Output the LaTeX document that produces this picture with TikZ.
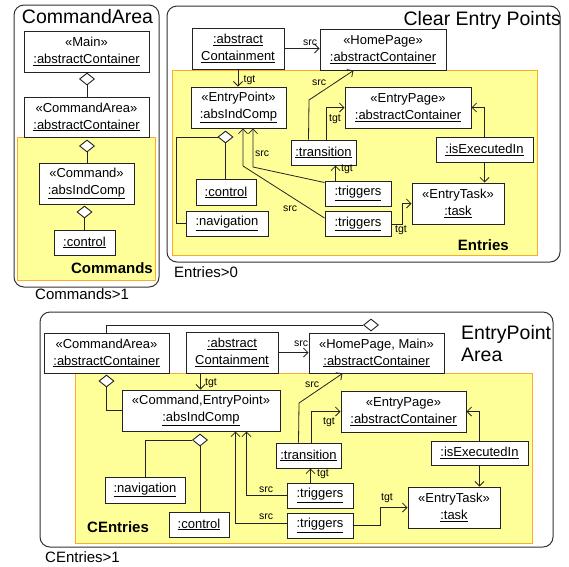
\documentclass[tikz,border=0pt]{standalone}
\usepackage{fontspec}
\setmainfont{Liberation Sans}
\usetikzlibrary{arrows.meta,shapes.geometric,calc}
\definecolor{areaf}{RGB}{255,255,153}
\definecolor{areab}{RGB}{255,170,40}
\definecolor{boxc}{RGB}{35,35,35}
\definecolor{linec}{RGB}{35,35,35}
\definecolor{panelc}{RGB}{50,50,50}
\tikzset{
  box/.style={draw=boxc, line width=1pt, fill=white, inner sep=0pt, align=center, font=\fontsize{13}{17}\selectfont},
  bx/.style 2 args={box, minimum width=#1pt, minimum height=#2pt},
  dia/.style={diamond, draw=boxc, line width=0.9pt, fill=white, minimum width=15pt, minimum height=12pt, inner sep=0pt},
  con/.style={draw=linec, line width=0.8pt},
  arr/.style={con, -{Straight Barb[length=4.5pt,width=9pt]}},
  lab/.style={font=\fontsize{10.5}{12}\selectfont, inner sep=0pt},
  panel/.style={draw=panelc, line width=1pt, rounded corners=10pt},
  area/.style={fill=areaf, draw=areab, line width=1pt},
  ttl/.style={font=\fontsize{19.5}{22}\selectfont, inner sep=0pt},
  areattl/.style={font=\bfseries\fontsize{15}{18}\selectfont, inner sep=0pt},
  card/.style={font=\fontsize{15}{18}\selectfont, inner sep=0pt},
}
\newcommand{\ul}[1]{\underline{#1}}
\begin{document}
\begin{tikzpicture}[x=1pt,y=-1pt]
\fill[white] (0,0) rectangle (569,566);
\useasboundingbox (0,0) rectangle (569,566);

% ================= Panel 1: CommandArea =================
\draw[panel] (14,5) rectangle (159,287);
\draw[area] (17,137) rectangle (155,280);
\node[ttl] (t1) at (87.5,17) {CommandArea};
\node[bx={125}{41}] (main) at (86.5,51.5) {«Main»\\\ul{:abstractContainer}};
\node[bx={125}{40}] (carea) at (86.5,117) {«CommandArea»\\\ul{:abstractContainer}};
\node[bx={95}{41}] (cmd) at (86.5,183.5) {«Command»\\\ul{:absIndComp}};
\node[bx={61}{25}] (ctrla) at (84.5,242.5) {\ul{:control}};
\node[dia] (d1) at (87,79) {};
\node[dia] (d2) at (87,146) {};
\node[dia] (d3) at (84.5,212) {};
\draw[con] (d1.south) -- (d1.south |- carea.north);
\draw[con] (d2.south) -- (d2.south |- cmd.north);
\draw[con] (d3.south) -- (d3.south |- ctrla.north);
\node[areattl, anchor=base east] (at1) at (153,273.5) {Commands};
\node[card, anchor=base west] (c1) at (35,299.5) {Commands>1};

% ================= Panel 2: Clear Entry Points =================
\draw[panel] (167,6) rectangle (560,262);
\draw[area] (172,70) rectangle (537,255);
\node[ttl, anchor=base east] (t2) at (561,25) {Clear Entry Points};
\node[bx={92}{41}] (contain) at (238,48.5) {\ul{:abstract}\\\ul{Containment}};
\node[bx={126}{41}] (home) at (383,49.5) {«HomePage»\\\ul{:abstractContainer}};
\node[bx={95}{41}] (epoint) at (238.5,107.5) {«EntryPoint»\\\ul{:absIndComp}};
\node[bx={126}{41}] (epage) at (408,107.5) {«EntryPage»\\\ul{:abstractContainer}};
\node[bx={60}{26}] (ctrlb) at (226,192.5) {\ul{:control}};
\node[bx={82}{25}] (nav) at (227,223.5) {\ul{:navigation}};
\node[bx={65}{25}] (trans) at (323.5,152.5) {\ul{:transition}};
\node[bx={66}{25}] (trig1) at (358,193.5) {\ul{:triggers}};
\node[bx={66}{25}] (trig2) at (358,224) {\ul{:triggers}};
\node[bx={92}{41}] (task) at (458,203.5) {«EntryTask»\\\ul{:task}};
\node[bx={97}{25}] (isexec) at (484.5,150) {\ul{:isExecutedIn}};
\node[dia] (dg) at (225.5,137) {};
\draw[con] (dg.south) -- (dg.south |- ctrlb.north);
\draw[con] (dg.west) -| ($(nav.west)+(-9,0)$) -- (nav.west);
\draw[arr] (contain.east) -- (contain.east -| home.west);
\node[lab] (l1) at (310,43) {src};
\draw[arr] (contain.south) -- (contain.south |- epoint.north);
\node[lab] (l2) at (249.5,80) {tgt};
\coordinate (b1) at (309,100);
\draw[arr] ($(trans.north west)+(18,0)$) -- (b1) -- ($(home.south west)+(34,0)$);
\node[lab] (l3) at (319,83) {src};
\draw[arr] ($(trans.north west)+(36,0)$) |- (epage.west);
\node[lab] (l4) at (335,119) {tgt};
\coordinate (t1a) at ($(trig1.north west)+(11,0)$);
\draw[arr] (t1a) -- (t1a |- trans.south);
\node[lab] (l5) at (347,169) {tgt};
\coordinate (e1) at (253,167);
\draw[arr] ($(trig1.north west)+(0,2)$) -- (e1) -- (e1 |- epoint.south);
\node[lab] (l6) at (262,154) {src};
\coordinate (e2) at (243,166);
\draw[arr] ($(trig2.north west)+(0,7)$) -- (e2) -- (e2 |- epoint.south);
\node[lab] (l7) at (290,209) {src};
\draw[arr] (trig2.east) -- ++(11,0) |- (task.west);
\node[lab] (l8) at (401,230) {tgt};
\draw[arr] (isexec.south) -- (isexec.south |- task.north);
\draw[arr] (isexec.north) |- (epage.east);
\node[areattl, anchor=base east] (at2) at (509,250.5) {Entries};
\node[card, anchor=base west] (c2) at (174,277.5) {Entries>0};

% ================= Panel 3: EntryPoint Area =================
\draw[panel] (40,312) rectangle (553,547);
\draw[area] (75,373) rectangle (532,543);
\node[ttl, anchor=base west] (t3a) at (461,339) {EntryPoint};
\node[ttl, anchor=base west] (t3b) at (461,361) {Area};
\node[bx={125}{40}] (carea3) at (106.5,353) {«CommandArea»\\\ul{:abstractContainer}};
\node[bx={92}{41}] (contain3) at (232,352.5) {\ul{:abstract}\\\ul{Containment}};
\node[bx={135}{40}] (home3) at (376.5,353) {«HomePage, Main»\\\ul{:abstractContainer}};
\node[bx={158}{41}] (cep) at (201,410.5) {«Command,EntryPoint»\\\ul{:absIndComp}};
\node[bx={125}{41}] (epage3) at (403.5,411.5) {«EntryPage»\\\ul{:abstractContainer}};
\node[bx={80}{26}] (nav3) at (145,490) {\ul{:navigation}};
\node[bx={60}{25}] (ctrl3) at (199,524.5) {\ul{:control}};
\node[bx={65}{25}] (trans3) at (308.5,455.5) {\ul{:transition}};
\node[bx={66}{25}] (trig13) at (320,495.5) {\ul{:triggers}};
\node[bx={66}{25}] (trig23) at (320,525.5) {\ul{:triggers}};
\node[bx={92}{41}] (task3) at (454,507.5) {«EntryTask»\\\ul{:task}};
\node[bx={97}{24}] (isexec3) at (479.5,453) {\ul{:isExecutedIn}};
\node[dia] (dtop) at (371,325) {};
\node[dia] (dca) at (106.5,381) {};
\node[dia] (dcep) at (200,440) {};
\draw[con] ($(carea3.north west)+(63,0)$) |- (dtop.west);
\draw[con] (dca.south) |- (cep.west);
\draw[con] (dcep.west) -| (nav3.north);
\draw[con] (dcep.south) -- (dcep.south |- ctrl3.north);
\coordinate (c3) at ($(contain3.south west)+(15,0)$);
\draw[arr] (c3) -- (c3 |- cep.north);
\node[lab] (m1) at (211,383) {tgt};
\draw[arr] (contain3.east) -- (contain3.east -| home3.west);
\node[lab] (m2) at (301,344) {src};
\coordinate (b3) at (299,403);
\draw[arr] ($(trans3.north west)+(23,0)$) -- (b3) -- ($(home3.south west)+(34,0)$);
\node[lab] (m3) at (312,385) {src};
\draw[arr] ($(trans3.north west)+(36,0)$) |- (epage3.west);
\node[lab] (m4) at (329,422) {tgt};
\coordinate (t13a) at ($(trig13.north west)+(24,0)$);
\draw[arr] (t13a) -- (t13a |- trans3.south);
\node[lab] (m5) at (323,474) {tgt};
\draw[arr] (trig13.west) -| ($(cep.south west)+(125,0)$);
\node[lab] (m6) at (266,490) {src};
\draw[arr] ($(trig23.west)+(0,-2)$) -| ($(cep.south west)+(114,0)$);
\node[lab] (m7) at (266,517) {src};
\draw[arr] (trig23.east) -- ++(27,0) |- (task3.west);
\node[lab] (m8) at (387,498) {tgt};
\draw[arr] (isexec3.south) -- (isexec3.south |- task3.north);
\draw[arr] (isexec3.north) |- (epage3.east);
\node[areattl, anchor=base west] (at3) at (87,532.5) {CEntries};
\node[card, anchor=base west] (c3t) at (45,562.5) {CEntries>1};
\end{tikzpicture}
\end{document}
